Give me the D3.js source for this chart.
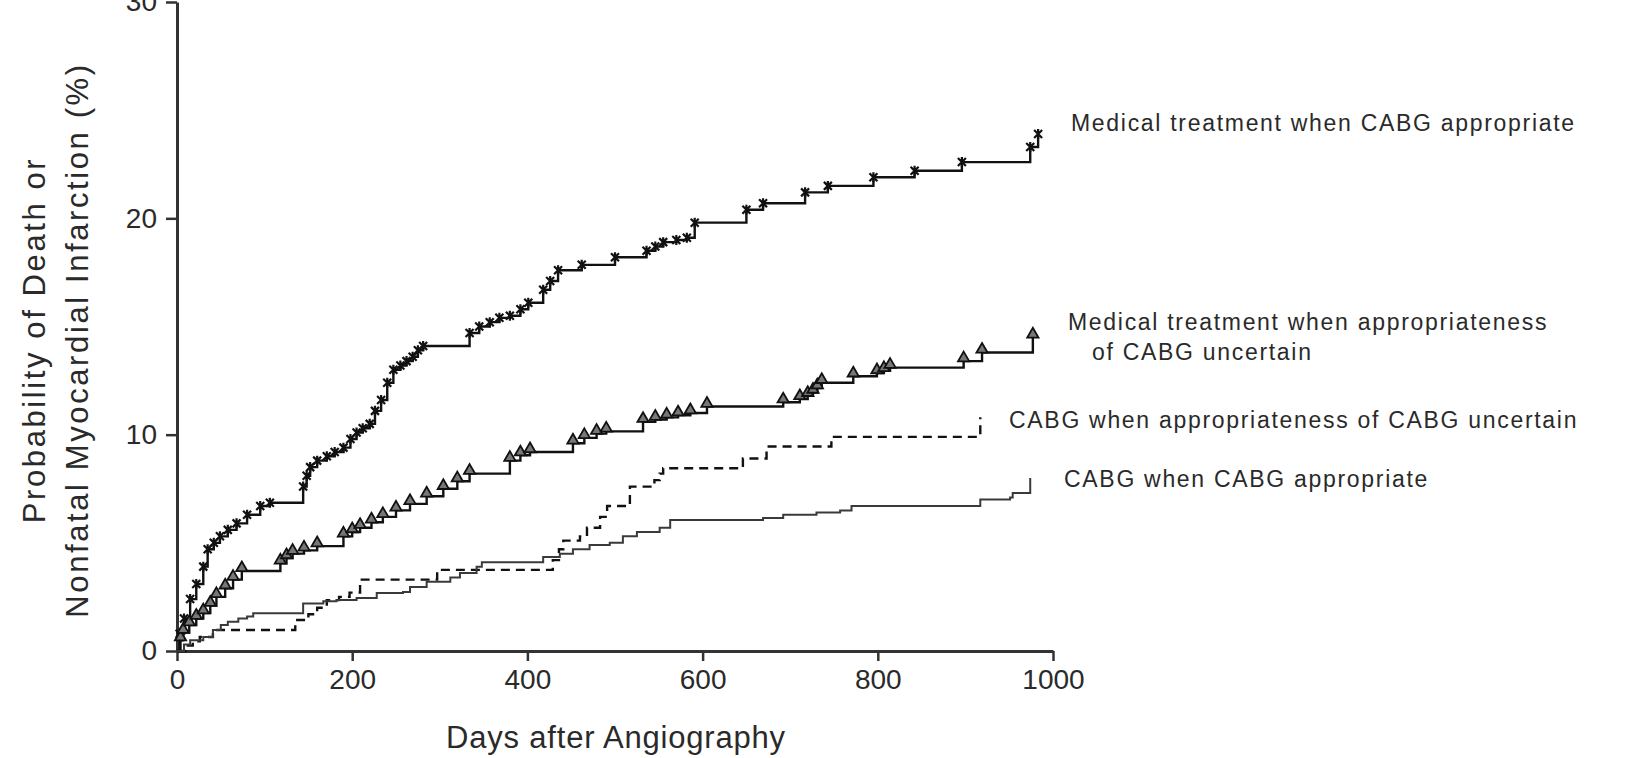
<!DOCTYPE html>
<html lang="en">
<head>
	<meta charset="utf-8">
	<title>Death or MI after angiography</title>
	<script src="https://cdn.jsdelivr.net/npm/d3@7/dist/d3.min.js"></script>
	<style>
		body { margin: 0; background: #fff; }
		text { font-family: "Liberation Sans", Arial, sans-serif; fill: #2a2a2a; }
	</style>
</head>
<body>
	<script>
  // Step curves: [days after angiography, % death or MI]
  var medicalWhenAppropriate = [
    [0,0],[3,0.8],[8,1.5],[15,2.4],[22,3.1],[30,3.9],[35,4.7],[42,5.0],[49,5.3],[58,5.6],
    [68,5.9],[80,6.3],[95,6.7],[106,6.85],[144,7.6],[148,8.1],[152,8.5],[160,8.8],[171,9.0],
    [180,9.2],[190,9.4],[198,9.8],[205,10.1],[212,10.3],[220,10.5],[226,11.1],[233,11.6],
    [240,12.4],[247,13.0],[255,13.2],[262,13.4],[269,13.6],[275,13.9],[281,14.1],[334,14.7],
    [345,15.0],[357,15.2],[368,15.4],[380,15.5],[392,15.8],[401,16.1],[418,16.7],[426,17.1],
    [435,17.6],[462,17.85],[500,18.2],[536,18.5],[546,18.7],[555,18.9],[570,19.0],[582,19.1],
    [591,19.8],[650,20.4],[669,20.7],[717,21.2],[743,21.5],[795,21.9],[842,22.2],[896,22.6],
    [974,23.3],[983,23.9]
  ];
  var medicalWhenUncertain = [
    [0,0],[4,0.5],[7,0.85],[14,1.2],[22,1.5],[30,1.75],[38,2.1],[45,2.5],[55,2.9],[64,3.3],
    [74,3.7],[118,4.05],[125,4.3],[132,4.5],[145,4.65],[160,4.85],[190,5.3],[200,5.5],[209,5.7],
    [222,5.95],[235,6.2],[250,6.5],[266,6.8],[285,7.15],[304,7.5],[320,7.85],[334,8.2],[380,8.8],
    [392,9.05],[403,9.2],[452,9.6],[465,9.85],[479,10.05],[490,10.15],[532,10.6],[546,10.7],
    [559,10.8],[572,10.9],[586,11.0],[605,11.3],[692,11.5],[711,11.65],[720,11.8],[726,11.95],
    [731,12.15],[736,12.4],[772,12.7],[799,12.85],[807,12.95],[814,13.1],[898,13.4],[919,13.8],
    [977,14.5]
  ];
  var cabgWhenUncertain = [
    [0,0],[10,0.25],[18,0.45],[26,0.65],[41,0.97],[135,1.43],[150,1.7],[160,2.0],[171,2.35],
    [185,2.5],[197,2.7],[209,3.3],[297,3.75],[429,4.2],[436,4.7],[441,5.1],[460,5.3],[468,5.7],
    [483,6.2],[491,6.7],[517,7.6],[545,7.9],[551,8.2],[555,8.45],[646,8.9],[673,9.45],[747,9.9],
    [917,10.8]
  ];
  var cabgWhenAppropriate = [
    [0,0],[8,0.3],[15,0.5],[30,0.65],[41,0.97],[50,1.2],[58,1.35],[70,1.5],[80,1.6],[87,1.75],
    [144,2.2],[167,2.3],[182,2.36],[205,2.45],[228,2.68],[258,2.73],[266,2.96],[285,3.2],
    [312,3.4],[323,3.6],[342,3.9],[348,4.1],[418,4.35],[437,4.5],[452,4.7],[471,4.9],[494,5.0],
    [509,5.3],[525,5.5],[551,5.7],[563,6.06],[669,6.15],[692,6.3],[730,6.4],[757,6.5],[770,6.7],
    [917,7.0],[951,7.1],[954,7.3],[974,8.0]
  ];

  var xTicks = [ 0, 200, 400, 600, 800, 1000 ];
  var yTicks = [ 0, 10, 20, 30 ];
  var xTitle = "Days after Angiography";
  var yTitle = [ "Probability of Death or", "Nonfatal Myocardial Infarction (%)" ];

  var width = 1639;
  var height = 758;

  var svg = d3.select( "body" )
      .append( "svg" )
      .attr( "width", width )
      .attr( "height", height );

  svg.append( "rect" )
    .attr( "width", width )
    .attr( "height", height )
    .attr( "fill", "#fff" );

  var x = d3.scaleLinear().domain( [0, 1000] ).range( [177, 1053] );
  var y = d3.scaleLinear().domain( [0, 30] ).range( [651, 2] );

  // axes
  var yAxis = svg.append( "g" )
    .attr( "transform", "translate(" + x(0) + ",0)" )
    .call( d3.axisLeft( y ).tickValues( yTicks ).tickFormat( d3.format( "d" ) )
      .tickSize( 11 ).tickSizeOuter( 0 ).tickPadding( 9 ) );
  var xAxis = svg.append( "g" )
    .attr( "transform", "translate(0," + y(0) + ")" )
    .call( d3.axisBottom( x ).tickValues( xTicks ).tickFormat( d3.format( "d" ) )
      .tickSize( 10 ).tickSizeOuter( 0 ).tickPadding( 8 ) );

  [ yAxis, xAxis ].forEach( function( ax ) {
    ax.select( ".domain" ).attr( "stroke", "#333" ).attr( "stroke-width", 3 );
    ax.selectAll( ".tick line" ).attr( "stroke", "#333" ).attr( "stroke-width", 2.5 );
    ax.selectAll( "text" )
      .attr( "fill", "#2a2a2a" )
      .style( "font-size", "28px" )
      .style( "font-family", "'Liberation Sans', Arial, sans-serif" );
  });

  // axis titles
  svg.append( "text" )
    .attr( "x", 616 )
    .attr( "y", 748 )
    .attr( "text-anchor", "middle" )
    .style( "font-size", "31px" )
    .style( "letter-spacing", "0.8px" )
    .text( xTitle );

  svg.append( "g" )
    .attr( "transform", "translate(45,340) rotate(-90)" )
    .selectAll( "text" )
    .data( yTitle )
    .enter()
    .append( "text" )
    .attr( "x", 0 )
    .attr( "y", function( d, i ) { return i * 43; } )
    .attr( "text-anchor", "middle" )
    .style( "font-size", "31px" )
    .style( "letter-spacing", "2.6px" )
    .text( function( d ) { return d; } );

  // curves
  var line = d3.line()
    .x( function( d ) { return x( d[0] ); } )
    .y( function( d ) { return y( d[1] ); } )
    .curve( d3.curveStepAfter );

  var curves = [
    { data: medicalWhenAppropriate, color: "#111", width: 2.4, dash: null },
    { data: medicalWhenUncertain, color: "#111", width: 2.4, dash: null },
    { data: cabgWhenUncertain, color: "#111", width: 2.4, dash: "9,6" },
    { data: cabgWhenAppropriate, color: "#3a3a3a", width: 2, dash: null }
  ];

  svg.selectAll( "path.curve" )
    .data( curves )
    .enter()
    .append( "path" )
    .attr( "class", "curve" )
    .attr( "fill", "none" )
    .attr( "stroke", function( d ) { return d.color; } )
    .attr( "stroke-width", function( d ) { return d.width; } )
    .attr( "stroke-dasharray", function( d ) { return d.dash; } )
    .attr( "d", function( d ) { return line( d.data ); } );

  // x-shaped marks on the top curve
  svg.append( "g" )
    .selectAll( "path" )
    .data( medicalWhenAppropriate.slice( 1 ) )
    .enter()
    .append( "path" )
    .attr( "transform", function( d ) { return "translate(" + x( d[0] ) + "," + y( d[1] ) + ")"; } )
    .attr( "d", "M-4,-4L4,4M-4,4L4,-4M0,-5L0,5" )
    .attr( "stroke", "#111" )
    .attr( "stroke-width", 2.2 )
    .attr( "fill", "none" );

  // triangles on the second curve
  svg.append( "g" )
    .selectAll( "path" )
    .data( medicalWhenUncertain.slice( 1 ) )
    .enter()
    .append( "path" )
    .attr( "transform", function( d ) { return "translate(" + x( d[0] ) + "," + ( y( d[1] ) - 3 ) + ")"; } )
    .attr( "d", d3.symbol().type( d3.symbolTriangle ).size( 55 ) )
    .attr( "stroke", "#111" )
    .attr( "stroke-width", 1.8 )
    .attr( "fill", "#777" );

  // curve labels
  var labels = [
    { lines: [ "Medical treatment when CABG appropriate" ], x: 1071, y: 131 },
    { lines: [ "Medical treatment when appropriateness", "of CABG uncertain" ], x: 1068, y: 330 },
    { lines: [ "CABG when appropriateness of CABG uncertain" ], x: 1009, y: 428 },
    { lines: [ "CABG when CABG appropriate" ], x: 1064, y: 487 }
  ];

  labels.forEach( function( l ) {
    var t = svg.append( "text" )
      .attr( "x", l.x )
      .attr( "y", l.y )
      .attr( "dy", "0.35em" )
      .style( "font-size", "23px" )
      .style( "letter-spacing", "1.7px" );
    l.lines.forEach( function( s, i ) {
      t.append( "tspan" )
        .attr( "x", i === 0 ? l.x : l.x + 24 )
        .attr( "dy", i === 0 ? 0 : 30 )
        .text( s );
    });
  });
  </script>
</body>
</html>
